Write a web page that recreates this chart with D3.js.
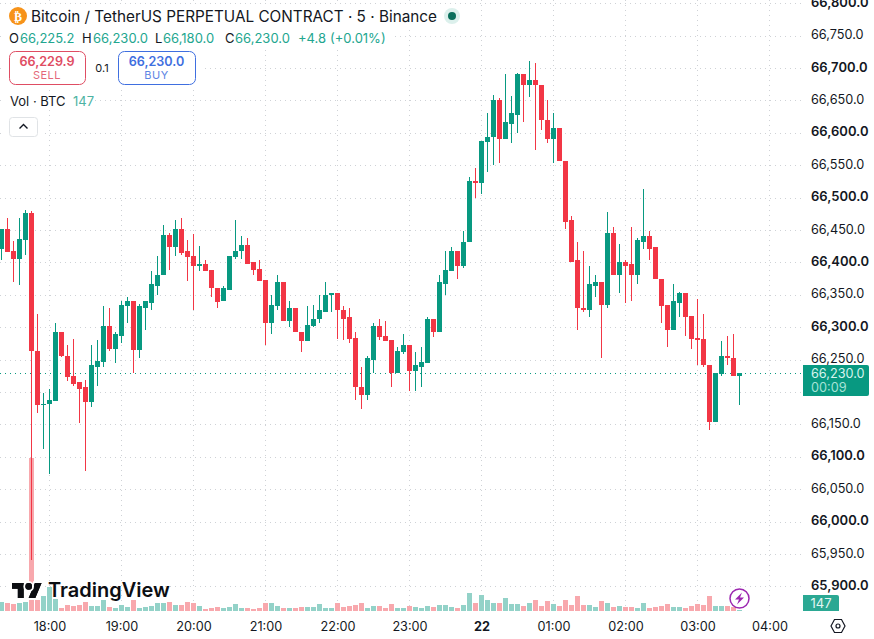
<!DOCTYPE html>
<html>
<head>
<meta charset="utf-8">
<script src="https://cdn.jsdelivr.net/npm/d3@7"></script>
<style>
  html, body { margin: 0; padding: 0; background: #fff; }
  svg { display: block; font-family: Inter, "Noto Sans", sans-serif; }
</style>
</head>
<body>
<svg id="chart" width="874" height="639"></svg>
<script>
// 5-minute BTC/USDT perpetual candles, first bar is 40 minutes before the 18:00 mark
const firstBar = -8;
const opens = [66421,66451,66417,66405,66435,66477,66264,66181,66181,66186,66293,66256,66224,66215,66207,66184,66239,66247,66302,66267,66287,66333,66341,66265,66330,66338,66364,66380,66443,66424,66451,66417,66410,66395,66398,66389,66361,66340,66358,66409,66417,66427,66400,66390,66373,66306,66333,66369,66309,66329,66293,66279,66302,66312,66324,66349,66353,66327,66315,66284,66208,66196,66250,66302,66287,66281,66230,66262,66272,66233,66239,66245,66312,66292,66367,66387,66417,66394,66431,66525,66522,66586,66593,66651,66591,66614,66628,66691,66674,66681,66674,66620,66591,66608,66557,66465,66403,66330,66326,66364,66369,66335,66446,66380,66400,66397,66380,66432,66441,66423,66375,66335,66296,66338,66353,66318,66284,66282,66242,66153,66228,66255,66253,66225.2];
const highs = [66451,66468,66433,66468,66481,66480,66321,66198,66204,66307,66293,66273,66282,66215,66218,66273,66281,66333,66330,66292,66341,66346,66341,66336,66341,66386,66410,66458,66446,66465,66468,66435,66444,66426,66404,66389,66361,66364,66410,66466,66440,66438,66401,66403,66373,66350,66381,66369,66340,66329,66293,66332,66335,66349,66369,66353,66353,66333,66329,66293,66238,66256,66307,66313,66310,66281,66270,66290,66272,66261,66270,66316,66312,66381,66417,66424,66417,66449,66532,66545,66588,66630,66659,66654,66691,66657,66693,66691,66711,66707,66674,66651,66630,66608,66557,66472,66431,66417,66395,66381,66369,66478,66454,66428,66403,66455,66437,66514,66448,66423,66375,66335,66367,66355,66353,66318,66344,66321,66242,66230,66278,66286,66289,66230];
const lows = [66403,66416,66370,66365,66412,65940,66167,66112,66073,66186,66254,66217,66210,66152,66078,66177,66210,66239,66264,66245,66276,66307,66230,66252,66296,66327,66350,66380,66389,66410,66412,66372,66327,66387,66387,66346,66330,66340,66358,66406,66406,66398,66381,66372,66272,66290,66327,66309,66301,66292,66262,66279,66301,66307,66324,66323,66282,66281,66276,66187,66173,66188,66230,66281,66279,66208,66230,66258,66201,66201,66208,66245,66285,66292,66350,66387,66375,66392,66431,66500,66505,66539,66551,66553,66591,66585,66600,66616,66656,66574,66605,66585,66553,66556,66451,66401,66295,66324,66315,66347,66253,66329,66380,66353,66338,66340,66366,66420,66403,66374,66307,66270,66296,66315,66286,66266,66242,66238,66142,66153,66224,66241,66224,66180];
const closes = [66451,66416,66405,66436,66477,66263,66180,66182,66187,66293,66255,66223,66213,66205,66184,66241,66248,66302,66267,66289,66335,66341,66265,66332,66340,66366,66381,66443,66424,66451,66415,66409,66395,66398,66387,66360,66339,66360,66410,66418,66427,66398,66389,66372,66306,66335,66369,66309,66329,66292,66279,66304,66313,66326,66350,66353,66326,66313,66282,66207,66196,66252,66302,66285,66279,66230,66264,66272,66233,66241,66247,66312,66292,66369,66389,66417,66394,66432,66525,66523,66588,66594,66651,66591,66616,66630,66691,66674,66681,66673,66619,66591,66608,66556,66463,66401,66329,66326,66367,66370,66335,66446,66380,66400,66395,66380,66434,66441,66421,66374,66333,66296,66340,66353,66316,66282,66281,66241,66153,66230,66255,66253,66224,66230];
const volumes = [945,870,735,840,945,16065,1155,1575,2520,1230,345,660,525,600,975,495,525,1185,450,285,600,390,1185,315,390,495,810,840,915,600,600,975,840,495,180,285,390,285,390,705,345,285,210,315,810,810,495,315,285,285,390,390,420,705,285,285,810,390,495,600,810,285,495,495,285,705,285,285,495,390,285,495,390,600,600,390,285,600,1860,810,1650,1125,810,810,1335,705,705,495,810,1125,495,1020,705,495,1125,600,1545,600,600,390,1020,810,390,495,390,390,285,810,285,390,495,705,390,390,285,495,705,600,1545,495,495,495,390,147];

const priceTicks = [66800,66750,66700,66650,66600,66550,66500,66450,66400,66350,66300,66250,66200,66150,66100,66050,66000,65950,65900];
// 66,200 is covered by the last-price tag, so it gets a gridline but no label
const priceLabels = [66800,66750,66700,66650,66600,66550,66500,66450,66400,66350,66300,66250,66150,66100,66050,66000,65950,65900];
const boldPrices = [66800,66700,66600,66500,66400,66300,66100,66000,65900];
const timeLabels = ["18:00","19:00","20:00","21:00","22:00","23:00","22","01:00","02:00","03:00","04:00"];
const timeBars = [0,12,24,36,48,60,72,84,96,108,120];

const lastPrice = 66230;
const lastVolume = 147;
const ohlcLabels = [
  ["O", 9, "66,225.2", 20], ["H", 82, "66,230.0", 93],
  ["L", 155, "66,180.0", 163], ["C", 225, "66,230.0", 235]
];

const UP = "#089981", DOWN = "#F23645";
const UP_VOL = "#93d2c8", DOWN_VOL = "#f8a8ad";
const TEXT = "#131722";

const svg = d3.select("#chart");
const bars = closes.map((c, i) => ({
  i: i + firstBar, o: opens[i], h: highs[i], l: lows[i], c, v: volumes[i], up: c >= opens[i]
}));

// Pixel centres sit on half-pixels so 1px wicks and dotted gridlines stay crisp
const x = d3.scaleLinear().domain([firstBar, 120]).range([1.5, 769.5]);
const y = d3.scaleLinear().domain([65900, 66800]).range([586.4, 3.2]);
const yVol = d3.scaleLinear().domain([0, 16065]).range([611, 458]);

// Grid
const grid = svg.append("g").attr("stroke", "#cfd2d6").attr("stroke-dasharray", "1 4");
grid.selectAll("line.h").data(priceTicks).join("line").attr("class", "h")
  .attr("x1", 0).attr("x2", 802)
  .attr("y1", d => Math.round(y(d)) + 0.5).attr("y2", d => Math.round(y(d)) + 0.5);
grid.selectAll("line.v").data(timeBars).join("line").attr("class", "v")
  .attr("x1", d => x(d)).attr("x2", d => x(d)).attr("y1", 0).attr("y2", 612);

// Last price line
svg.append("line").attr("x1", 0).attr("x2", 802)
  .attr("y1", Math.round(y(lastPrice)) + 0.5).attr("y2", Math.round(y(lastPrice)) + 0.5)
  .attr("stroke", UP).attr("stroke-dasharray", "1 4");

// Volume histogram
svg.append("g").attr("shape-rendering", "crispEdges").selectAll("rect").data(bars).join("rect")
  .attr("x", d => x(d.i) - 2.5).attr("width", 5)
  .attr("y", d => yVol(d.v)).attr("height", d => yVol(0) - yVol(d.v))
  .attr("fill", d => d.up ? UP_VOL : DOWN_VOL);

// Candles
const candles = svg.append("g").attr("shape-rendering", "crispEdges");
candles.selectAll("rect.wick").data(bars).join("rect").attr("class", "wick")
  .attr("x", d => x(d.i) - 0.5).attr("width", 1)
  .attr("y", d => y(d.h)).attr("height", d => y(d.l) - y(d.h))
  .attr("fill", d => d.up ? UP : DOWN);
candles.selectAll("rect.body").data(bars).join("rect").attr("class", "body")
  .attr("x", d => x(d.i) - 2.5).attr("width", 5)
  .attr("y", d => y(Math.max(d.o, d.c)))
  .attr("height", d => Math.max(1, Math.abs(y(d.o) - y(d.c))))
  .attr("fill", d => d.up ? UP : DOWN);

// Legend panels keep the grid from running under the overlay text
const panels = svg.append("g").attr("fill", "#fff");
[[4, 4, 465, 24], [4, 28, 388, 20], [4, 48, 197, 40], [4, 92, 90, 18], [4, 114, 38, 25]]
  .forEach(r => panels.append("rect").attr("x", r[0]).attr("y", r[1]).attr("width", r[2]).attr("height", r[3]));

// Title row
svg.append("circle").attr("cx", 18).attr("cy", 16).attr("r", 9).attr("fill", "#f7931a");
svg.append("text").attr("x", 18).attr("y", 20.5).attr("text-anchor", "middle")
  .attr("font-family", "DejaVu Sans").attr("font-size", 12).attr("font-weight", 700)
  .attr("fill", "#fff").text("₿");
svg.append("text").attr("x", 31).attr("y", 21.5).attr("font-size", 15.3).attr("fill", TEXT)
  .text("Bitcoin / TetherUS PERPETUAL CONTRACT · 5 · Binance");
svg.append("circle").attr("cx", 452).attr("cy", 16).attr("r", 8).attr("fill", "#dcf0ec");
svg.append("circle").attr("cx", 452).attr("cy", 16).attr("r", 4).attr("fill", "#0b6f5c");

// OHLC row
const ohlc = svg.append("g").attr("font-size", 13);
ohlcLabels.forEach(([k, kx, v, vx]) => {
  ohlc.append("text").attr("x", kx).attr("y", 43).attr("fill", TEXT).text(k);
  ohlc.append("text").attr("x", vx).attr("y", 43).attr("fill", "#22a68f").text(v);
});
ohlc.append("text").attr("x", 298).attr("y", 43).attr("fill", "#22a68f").text("+4.8");
ohlc.append("text").attr("x", 330).attr("y", 43).attr("fill", "#22a68f").text("(+0.01%)");

// Sell / buy buttons
function tradeButton(bx, w, color, price, label) {
  const g = svg.append("g");
  g.append("rect").attr("x", bx + 0.5).attr("y", 51.5).attr("width", w).attr("height", 33)
    .attr("rx", 6).attr("fill", "#fff").attr("stroke", color);
  g.append("text").attr("x", bx + w / 2).attr("y", 65.5).attr("text-anchor", "middle")
    .attr("font-size", 12.6).attr("font-weight", 600).attr("fill", color).text(price);
  g.append("text").attr("x", bx + w / 2).attr("y", 79).attr("text-anchor", "middle")
    .attr("font-size", 11).attr("letter-spacing", 0.5).attr("fill", color).attr("opacity", 0.85).text(label);
}
tradeButton(9, 76, "#df4d63", "66,229.9", "SELL");
tradeButton(118, 77, "#3f6fe0", "66,230.0", "BUY");
svg.append("text").attr("x", 102).attr("y", 72).attr("text-anchor", "middle")
  .attr("font-size", 11).attr("fill", TEXT).text("0.1");

// Volume legend and collapse button
svg.append("text").attr("x", 10).attr("y", 106).attr("font-size", 13).attr("fill", TEXT).text("Vol · BTC");
svg.append("text").attr("x", 73).attr("y", 106).attr("font-size", 13).attr("fill", "#4db3a3").text(lastVolume);
svg.append("rect").attr("x", 9.5).attr("y", 117.5).attr("width", 28).attr("height", 19).attr("rx", 3)
  .attr("fill", "#fff").attr("stroke", "#e0e3e6");
svg.append("path").attr("d", "M19.5 128.5l4-4 4 4").attr("fill", "none").attr("stroke", TEXT).attr("stroke-width", 1.4);

// Price axis
const priceAxis = svg.append("g").attr("transform", "translate(811,-1)")
  .call(d3.axisRight(y).tickValues(priceLabels).tickSize(0).tickPadding(0).tickFormat(d3.format(",.1f")));
priceAxis.select(".domain").remove();
priceAxis.selectAll("text").attr("font-family", "Inter").attr("fill", TEXT)
  .attr("font-size", d => boldPrices.includes(d) ? 13 : 12.7)
  .attr("font-weight", d => boldPrices.includes(d) ? 600 : 400);

// Time axis
const timeAxis = svg.append("g").attr("transform", "translate(0,619)")
  .call(d3.axisBottom(x).tickValues(timeBars).tickSize(0).tickPadding(3)
    .tickFormat((d, i) => timeLabels[i]));
timeAxis.select(".domain").remove();
timeAxis.selectAll("text").attr("font-family", "Inter").attr("font-size", 12.7).attr("fill", TEXT)
  .attr("font-weight", (d, i) => timeLabels[i] === "22" ? 700 : 400);

// Last price tag
svg.append("path").attr("d", "M803 365H867a2 2 0 0 1 2 2V394a2 2 0 0 1 -2 2H803Z").attr("fill", UP);
svg.append("text").attr("x", 811).attr("y", 377.5).attr("font-size", 12.7).attr("fill", "#d8f3ee")
  .text(d3.format(",.1f")(lastPrice));
svg.append("text").attr("x", 811).attr("y", 391.5).attr("font-size", 12.7).attr("fill", "#a6e2d7").text("00:09");

// Volume tag
svg.append("path").attr("d", "M803 595H837a2 2 0 0 1 2 2V611H803Z").attr("fill", "#2ba893");
svg.append("text").attr("x", 821).attr("y", 608).attr("text-anchor", "middle").attr("font-size", 13)
  .attr("fill", "#e4f5f2").text(lastVolume);

// Branding: the mark carries a thin white halo over the histogram
const logo = svg.append("g").attr("fill", "#0c0e12").attr("stroke", "#fff").style("paint-order", "stroke");
logo.append("path").attr("transform", "translate(12,579.7) scale(0.833)")
  .attr("d", "M14 22H7V11H0V4h14v18zM28 22h-8l7.5-18h8L28 22z").attr("stroke-width", 5);
logo.append("circle").attr("cx", 28.7).attr("cy", 586.4).attr("r", 3.3).attr("stroke-width", 4);
logo.selectAll("path").clone(false).attr("stroke", "none")
  .attr("transform", "translate(12,579.7) scale(0.833)")
  .attr("d", "M14 22H7V11H0V4h14v18zM28 22h-8l7.5-18h8L28 22z");
svg.append("circle").attr("cx", 28.7).attr("cy", 586.4).attr("r", 3.3).attr("fill", "#0c0e12");
svg.append("text").attr("x", 48).attr("y", 597).attr("font-size", 20).attr("font-weight", 600)
  .attr("fill", "#0c0e12").text("TradingView");

// Lightning marker
svg.append("circle").attr("cx", 739.5).attr("cy", 598.5).attr("r", 9.5)
  .attr("fill", "#fff").attr("fill-opacity", 0.6).attr("stroke", "#9c27b0").attr("stroke-width", 1.5);
svg.append("path").attr("d", "M742 592.5L735 599.5H739L737 604.5L744 597.5H740Z").attr("fill", "#9c27b0");

// Settings hexagon
svg.append("path").attr("d", "M831 626l3.5-6.5h7l3.5 6.5-3.5 6.5h-7Z").attr("fill", "none").attr("stroke", TEXT).attr("stroke-width", 1.2);
svg.append("circle").attr("cx", 838).attr("cy", 626).attr("r", 2).attr("fill", "none").attr("stroke", TEXT).attr("stroke-width", 1.2);
</script>
</body>
</html>
